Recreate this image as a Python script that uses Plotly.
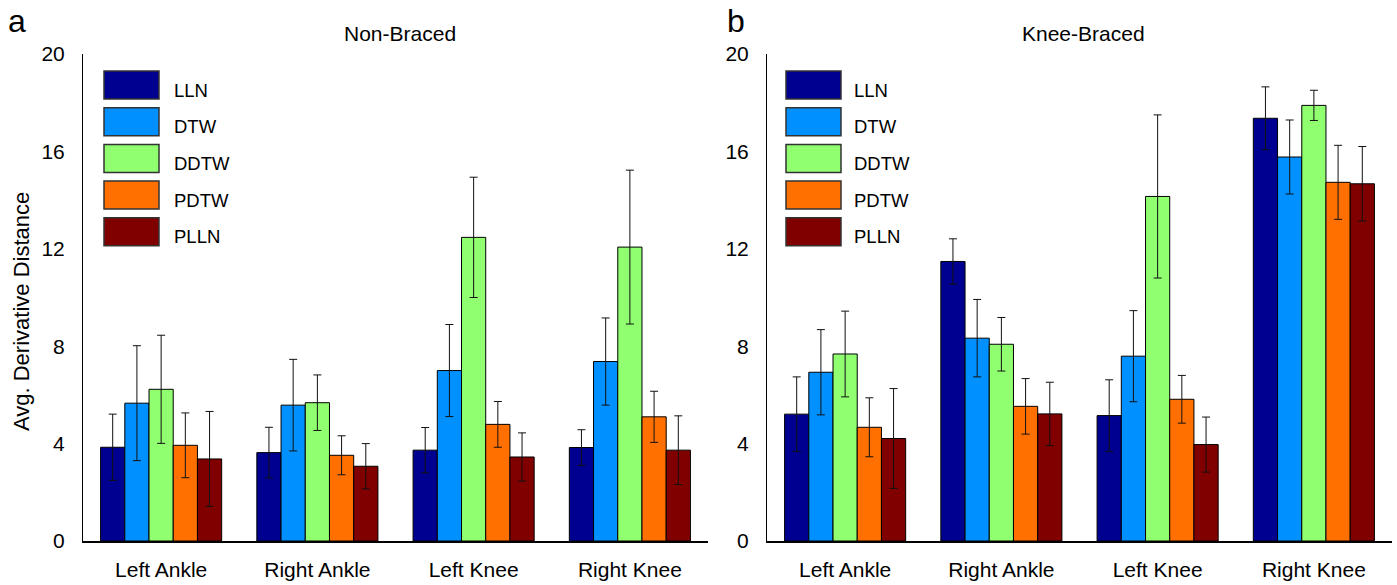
import plotly.graph_objects as go

# ---------------- data ----------------
categories = ["Left Ankle", "Right Ankle", "Left Knee", "Right Knee"]
methods = ["LLN", "DTW", "DDTW", "PDTW", "PLLN"]
colors = ["#000090", "#0090FF", "#90FF70", "#FF7000", "#800000"]
y_ticks = [0, 4, 8, 12, 16, 20]

# Non-Braced (panel a): mean values and error (+/-)
nb_lln = [3.85, 3.63, 3.73, 3.84]
nb_dtw = [5.66, 5.58, 7.00, 7.37]
nb_ddtw = [6.23, 5.68, 12.47, 12.07]
nb_pdtw = [3.93, 3.52, 4.79, 5.10]
nb_plln = [3.37, 3.07, 3.45, 3.73]

nb_lln_err = [1.36, 1.04, 0.93, 0.73]
nb_dtw_err = [2.36, 1.88, 1.89, 1.79]
nb_ddtw_err = [2.22, 1.14, 2.47, 3.16]
nb_pdtw_err = [1.33, 0.80, 0.94, 1.05]
nb_plln_err = [1.95, 0.93, 0.99, 1.41]

# Knee-Braced (panel b)
kb_lln = [5.21, 11.48, 5.15, 17.36]
kb_dtw = [6.93, 8.33, 7.59, 15.77]
kb_ddtw = [7.68, 8.08, 14.15, 17.89]
kb_pdtw = [4.67, 5.53, 5.82, 14.73]
kb_plln = [4.21, 5.22, 3.96, 14.67]

kb_lln_err = [1.53, 0.93, 1.47, 1.29]
kb_dtw_err = [1.75, 1.59, 1.87, 1.52]
kb_ddtw_err = [1.76, 1.10, 3.35, 0.62]
kb_pdtw_err = [1.21, 1.14, 0.98, 1.52]
kb_plln_err = [2.05, 1.30, 1.13, 1.53]

panels = [
    ("Non-Braced", "a", [nb_lln, nb_dtw, nb_ddtw, nb_pdtw, nb_plln],
     [nb_lln_err, nb_dtw_err, nb_ddtw_err, nb_pdtw_err, nb_plln_err]),
    ("Knee-Braced", "b", [kb_lln, kb_dtw, kb_ddtw, kb_pdtw, kb_plln],
     [kb_lln_err, kb_dtw_err, kb_ddtw_err, kb_pdtw_err, kb_plln_err]),
]

# ---------------- layout geometry (pixels) ----------------
W, H = 1397, 585
TOP, BOTTOM = 54, 541
x_dom_px = [(83, 708), (767, 1392)]
FONT = "Liberation Sans, Arial, sans-serif"


def px(xp):
    return xp / W


def py(yp):
    return (BOTTOM - yp) / (BOTTOM - TOP)


fig = go.Figure()
shapes = []
annotations = []

for pi, (title, letter, values, errs) in enumerate(panels):
    xa = "x" if pi == 0 else "x2"
    ya = "y" if pi == 0 else "y2"
    for mi, m in enumerate(methods):
        fig.add_trace(go.Bar(
            x=categories, y=values[mi], name=m,
            xaxis=xa, yaxis=ya, offsetgroup=str(mi),
            marker=dict(color=colors[mi], line=dict(color="#000000", width=1)),
            error_y=dict(type="data", array=errs[mi], visible=True,
                         color="#111111", thickness=1, width=4),
            showlegend=False,
        ))

    x0, x1 = x_dom_px[pi]
    wpx = x1 - x0
    box_l = (21 if pi == 0 else 19)
    lab_l = (89 if pi == 0 else 85)
    for mi, m in enumerate(methods):
        top = 71 + mi * 36.7
        bot = top + 28
        shapes.append(dict(
            type="rect", xref=f"{xa} domain", yref=f"{ya} domain",
            x0=box_l / wpx, x1=(box_l + 55) / wpx,
            y0=py(bot), y1=py(top),
            fillcolor=colors[mi], line=dict(color="#333333", width=1.5),
            layer="above",
        ))
        annotations.append(dict(
            xref=f"{xa} domain", yref=f"{ya} domain",
            x=lab_l / wpx, y=py(top + 19), xanchor="left", yanchor="middle",
            text=m, showarrow=False, font=dict(size=18.5, color="black", family=FONT),
        ))

    annotations.append(dict(
        xref="paper", yref="paper", x=px((x0 + x1) / 2 + 4), y=py(33),
        xanchor="center", yanchor="middle", text=title, showarrow=False,
        font=dict(size=21, color="black", family=FONT),
    ))
    annotations.append(dict(
        xref="paper", yref="paper", x=px(17 if pi == 0 else 736), y=py(21),
        xanchor="center", yanchor="middle", text=letter, showarrow=False,
        font=dict(size=32, color="black", family=FONT),
    ))

annotations.append(dict(
    xref="paper", yref="paper", x=px(21), y=py(312),
    xanchor="center", yanchor="middle", text="Avg. Derivative Distance",
    textangle=-90, showarrow=False,
    font=dict(size=22, color="black", family=FONT),
))

axis_common_x = dict(
    showline=True, linecolor="black", linewidth=2, showgrid=False,
    zeroline=False, ticks="", tickfont=dict(size=21, color="black", family=FONT),
    ticklabelstandoff=9, fixedrange=True,
)
axis_common_y = dict(
    showline=True, linecolor="black", linewidth=1, showgrid=False,
    zeroline=False, ticks="", range=[0, 20], tickvals=y_ticks,
    tickfont=dict(size=21, color="black", family=FONT),
    ticklabelstandoff=13, fixedrange=True,
)

fig.update_layout(
    width=W, height=H,
    margin=dict(l=0, r=0, t=TOP, b=H - BOTTOM),
    paper_bgcolor="white", plot_bgcolor="white",
    barmode="group", bargap=0.225, bargroupgap=0,
    xaxis=dict(domain=[px(x_dom_px[0][0]), px(x_dom_px[0][1])], anchor="y", **axis_common_x),
    yaxis=dict(domain=[0, 1], anchor="x", **axis_common_y),
    xaxis2=dict(domain=[px(x_dom_px[1][0]), px(x_dom_px[1][1])], anchor="y2", **axis_common_x),
    yaxis2=dict(domain=[0, 1], anchor="x2", **axis_common_y),
    shapes=shapes, annotations=annotations,
    font=dict(family=FONT, color="black"),
)

fig.write_html("out.html")
